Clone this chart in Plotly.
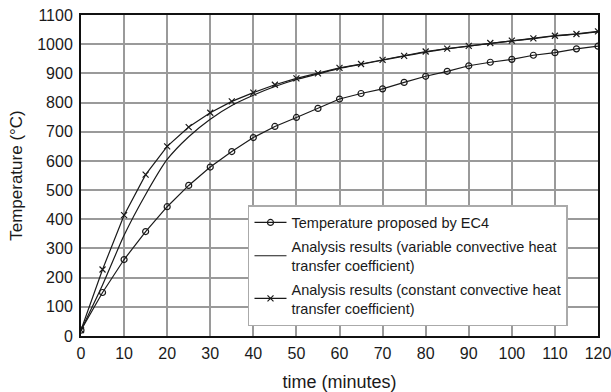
import plotly.graph_objects as go

# Time in minutes
time_min = [0, 5, 10, 15, 20, 25, 30, 35, 40, 45, 50, 55, 60,
            65, 70, 75, 80, 85, 90, 95, 100, 105, 110, 115, 120]

# Steel temperature (°C)
temp_ec4 = [20, 149, 262, 358, 443, 516, 579, 632, 680, 718, 749, 780, 812,
            831, 847, 869, 890, 907, 926, 938, 948, 962, 971, 984, 993]
temp_variable = [20, 175, 345, 485, 605, 683, 743, 790, 825, 855, 879, 898, 917,
                 931, 945, 959, 973, 984, 993, 1003, 1011, 1019, 1028, 1034, 1042]
temp_constant = [20, 228, 414, 553, 650, 716, 765, 804, 834, 861, 883, 900, 919,
                 932, 946, 960, 975, 985, 994, 1004, 1012, 1020, 1029, 1035, 1044]

x_ticks = list(range(0, 121, 10))
y_ticks = list(range(0, 1101, 100))

names = [
    "Temperature proposed by EC4",
    "Analysis results (variable convective heat<br>transfer coefficient)",
    "Analysis results (constant convective heat<br>transfer coefficient)",
]

FONT = "Liberation Sans, Arial, Helvetica, sans-serif"
INK = "#1a1a1a"

fig = go.Figure()
fig.add_trace(go.Scatter(
    x=time_min, y=temp_ec4, name=names[0], mode="lines+markers",
    line=dict(color=INK, width=1.2),
    marker=dict(symbol="circle-open", size=6, color=INK, line=dict(width=1.2)),
    legendgroup="a",
))
fig.add_trace(go.Scatter(
    x=time_min, y=temp_variable, name=names[1], mode="lines",
    line=dict(color=INK, width=1.2, shape="spline", smoothing=0.6),
    legendgroup="b",
))
fig.add_trace(go.Scatter(
    x=time_min, y=temp_constant, name=names[2], mode="lines+markers",
    line=dict(color=INK, width=1.2),
    marker=dict(symbol="x-thin-open", size=6, color=INK, line=dict(width=1.2, color=INK)),
    legendgroup="c",
))

axis_common = dict(
    showgrid=True, gridcolor="#9a9a9a", gridwidth=2,
    showline=True, linecolor="#111111", linewidth=2, mirror=True,
    zeroline=False, ticks="", automargin=False, ticklabeloverflow="allow",
    tickfont=dict(family=FONT, size=16, color=INK),
)

fig.update_xaxes(
    range=[0, 120], tickvals=x_ticks,
    title=dict(text="time (minutes)", font=dict(family=FONT, size=18, color=INK), standoff=18),
    ticklabelstandoff=2,
    **axis_common,
)
fig.update_yaxes(
    range=[0, 1100], tickvals=y_ticks,
    title=dict(text="Temperature (°C)", font=dict(family=FONT, size=17, color=INK), standoff=10),
    ticklabelstandoff=3,
    **axis_common,
)

fig.update_layout(
    width=611, height=392,
    margin=dict(l=81, r=13, t=15, b=56),
    paper_bgcolor="white", plot_bgcolor="white",
    font=dict(family=FONT, color=INK),
    showlegend=True,
    legend=dict(
        x=0.323, y=0.408, xanchor="left", yanchor="top",
        bgcolor="white", bordercolor="#aaaaaa", borderwidth=1.5,
        font=dict(family=FONT, size=14.5, color=INK),
        traceorder="grouped", tracegroupgap=2,
        itemwidth=32,
    ),
)

fig.write_html("out.html")
